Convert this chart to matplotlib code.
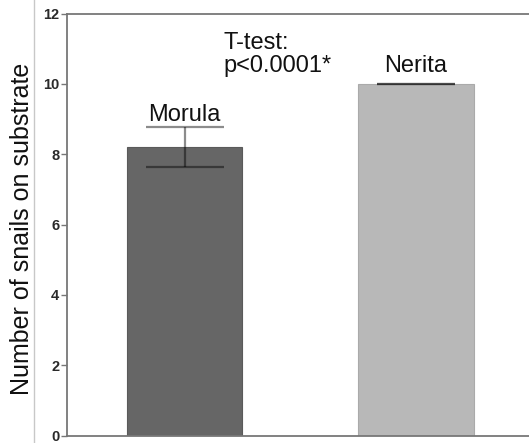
import matplotlib
matplotlib.use("Agg")
import matplotlib.pyplot as plt
from matplotlib.lines import Line2D

categories = ["Morula", "Nerita"]
means = [8.2, 10.0]
errors = [0.56, 0.0]
label_y = [8.94, 10.33]
colors = ["#666666", "#b8b8b8"]
yticks = [0, 2, 4, 6, 8, 10, 12]

plt.rcParams['font.family'] = ['Liberation Sans', 'DejaVu Sans']

fig = plt.figure(figsize=(5.29, 4.43), dpi=100)
ax = fig.add_axes([67/529, 7.5/443, 1 - 67/529, 422/443])

x = list(range(len(categories)))
ax.bar(x, means, width=0.5, color=colors, edgecolor=["#5a5a5a", "#aaaaaa"], linewidth=0.8, zorder=2)
ax.errorbar(x, means, yerr=errors, fmt='none', ecolor='black', alpha=0.45,
            elinewidth=1.6, capsize=28, capthick=1.6, zorder=3)

for xi, ly, c in zip(x, label_y, categories):
    ax.text(xi, ly, c, ha='center', va='baseline', fontsize=17, color='#111111')

ax.text(0.167, 10.98, "T-test:", ha='left', va='baseline', fontsize=17, color='#111111')
ax.text(0.167, 10.33, "p<0.0001*", ha='left', va='baseline', fontsize=17, color='#111111')

ax.set_xlim(-0.509, 1.49)
ax.set_ylim(0, 12)
ax.set_yticks(yticks)
ax.set_yticklabels([str(t) for t in yticks], fontsize=10.5, color='#2a2a2a', fontweight='bold')
ax.set_xticks([])
ax.tick_params(axis='y', direction='out', length=4.3, width=1, color='#777777', pad=1.2)
for s in ['left', 'top', 'bottom']:
    ax.spines[s].set_color('#777777')
    ax.spines[s].set_linewidth(1.3)
ax.spines['right'].set_visible(False)

fig.text(22/529, 1 - 229/443, "Number of snails on substrate", rotation=90,
         ha='center', va='center', fontsize=18, color='#111111')

fig.add_artist(Line2D([34/529, 34/529], [0, 1], color='#c8c8c8', linewidth=1))

fig.savefig("out.png", dpi=100)
